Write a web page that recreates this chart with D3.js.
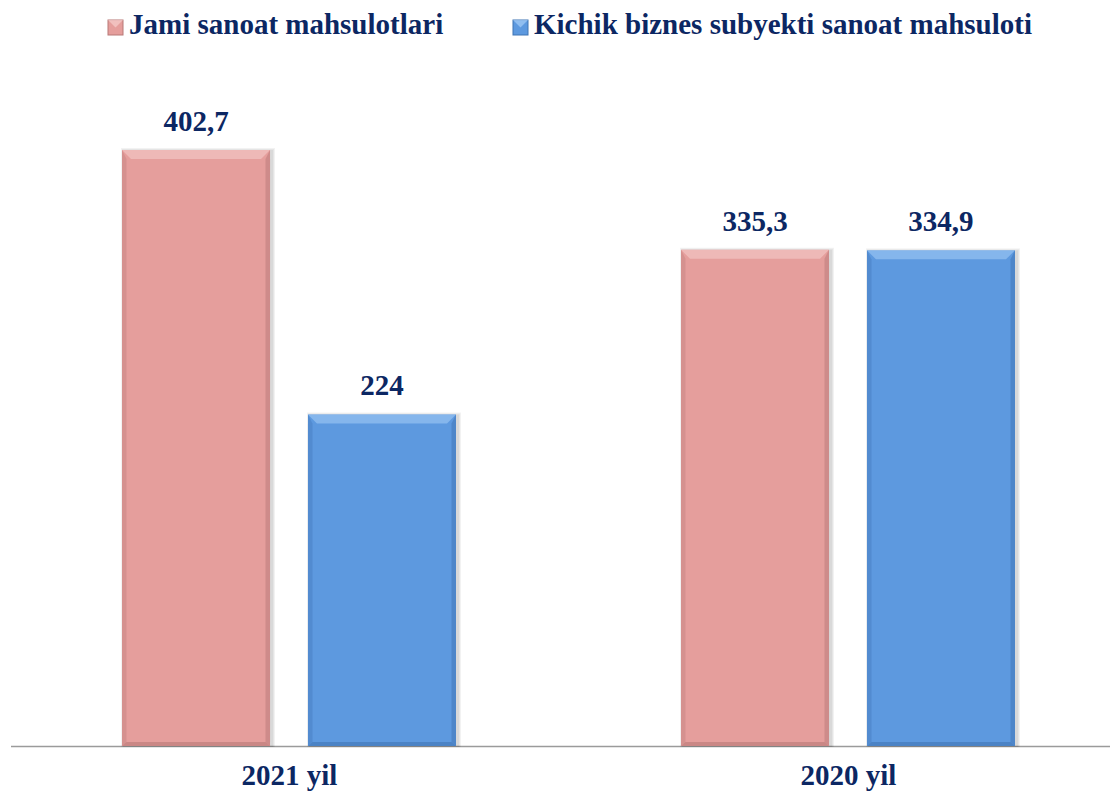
<!DOCTYPE html>
<html>
<head>
<meta charset="utf-8">
<script src="https://cdn.jsdelivr.net/npm/d3@7"></script>
</head>
<body style="margin:0">
<script>
const width = 1110;
const height = 796;

const categories = ['2021 yil', '2020 yil'];
const seriesNames = ['Jami sanoat mahsulotlari', 'Kichik biznes subyekti sanoat mahsuloti'];
const jami = [402.7, 335.3];
const kichik = [224, 334.9];
const valueLabels = [['402,7', '224'], ['335,3', '334,9']];

const colors = ['#e59e9c', '#5d99df'];
const edgeDark = ['#b77877', '#3f74b4'];
const edgeLight = ['#f6cfcd', '#a6cdf6'];
const textColor = '#0c2763';
const serif = '"Liberation Serif"';

const rows = categories.map((c, i) => ({ cat: c, vals: [jami[i], kichik[i]], labels: valueLabels[i] }));

const svg = d3.select('body')
  .append('svg')
  .attr('width', width)
  .attr('height', height);

const x0 = d3.scaleBand().domain(categories).range([10, 1128]);
const x1 = d3.scaleBand().domain([0, 1]).range([112, 446]).paddingInner(0.204);
const y = d3.scaleLinear().domain([0, 402.7]).range([746, 150]);

// axis baseline
svg.append('line')
  .attr('x1', 11).attr('x2', width)
  .attr('y1', y(0) + 0.5).attr('y2', y(0) + 0.5)
  .attr('stroke', '#9b9b9b').attr('stroke-width', 1.5);

const group = svg.selectAll('.grp')
  .data(rows)
  .join('g')
    .attr('class', 'grp')
    .attr('transform', d => `translate(${x0(d.cat)},0)`);

const bev = 9;
const bar = group.selectAll('.bar')
  .data(d => d.vals.map((v, k) => ({ v, k, label: d.labels[k] })))
  .join('g')
    .attr('class', 'bar');

bar.each(function (d) {
  const g = d3.select(this);
  const x = x1(d.k), w = x1.bandwidth();
  const top = y(d.v), bot = y(0);
  // soft shadow made of offset rects
  [3, 2, 1].forEach(o => {
    g.append('rect')
      .attr('x', x - o + 2).attr('y', top - o + 1).attr('width', w + 2 * o).attr('height', bot - top + o)
      .attr('fill', '#000').attr('opacity', 0.05);
  });
  g.append('rect')
    .attr('x', x).attr('y', top).attr('width', w).attr('height', bot - top)
    .attr('fill', colors[d.k]);
  // top bevel
  g.append('polygon')
    .attr('points', [[x, top], [x + w, top], [x + w - bev, top + bev], [x + bev, top + bev]].join(' '))
    .attr('fill', edgeLight[d.k]).attr('opacity', 0.55);
  // left and right bevels
  g.append('polygon')
    .attr('points', [[x, top], [x + bev * 0.5, top + bev], [x + bev * 0.5, bot - 4], [x, bot]].join(' '))
    .attr('fill', edgeDark[d.k]).attr('opacity', 0.35);
  g.append('polygon')
    .attr('points', [[x + w, top], [x + w - bev * 0.5, top + bev], [x + w - bev * 0.5, bot - 4], [x + w, bot]].join(' '))
    .attr('fill', edgeDark[d.k]).attr('opacity', 0.5);
  // bottom bevel
  g.append('polygon')
    .attr('points', [[x, bot], [x + bev * 0.5, bot - 4], [x + w - bev * 0.5, bot - 4], [x + w, bot]].join(' '))
    .attr('fill', edgeDark[d.k]).attr('opacity', 0.6);
  g.append('text')
    .attr('x', x + w / 2).attr('y', top - 19)
    .attr('text-anchor', 'middle')
    .attr('font-size', 29)
    .attr('font-weight', 'bold')
    .style('font-family', serif)
    .attr('fill', textColor)
    .text(d.label);
});

// category labels
group.append('text')
  .attr('x', x0.bandwidth() / 2)
  .attr('y', 785)
  .attr('text-anchor', 'middle')
  .attr('font-size', 29)
  .attr('font-weight', 'bold')
  .style('font-family', serif)
  .attr('fill', textColor)
  .text(d => d.cat);

// legend
const legendX = [108, 513];
const legend = svg.selectAll('.leg')
  .data(seriesNames)
  .join('g')
    .attr('class', 'leg')
    .attr('transform', (d, i) => `translate(${legendX[i]},20)`);
legend.append('rect')
  .attr('width', 15).attr('height', 15)
  .attr('fill', (d, i) => colors[i])
  .attr('stroke', (d, i) => edgeDark[i]).attr('stroke-width', 1);
legend.append('polygon')
  .attr('points', '0,0 15,0 7.5,7.5')
  .attr('fill', (d, i) => edgeLight[i]).attr('opacity', 0.7);
legend.append('text')
  .attr('x', 21).attr('y', 14)
  .attr('font-size', 29)
  .attr('font-weight', 'bold')
  .style('font-family', serif)
  .attr('fill', textColor)
  .text(d => d);
</script>
</body>
</html>
